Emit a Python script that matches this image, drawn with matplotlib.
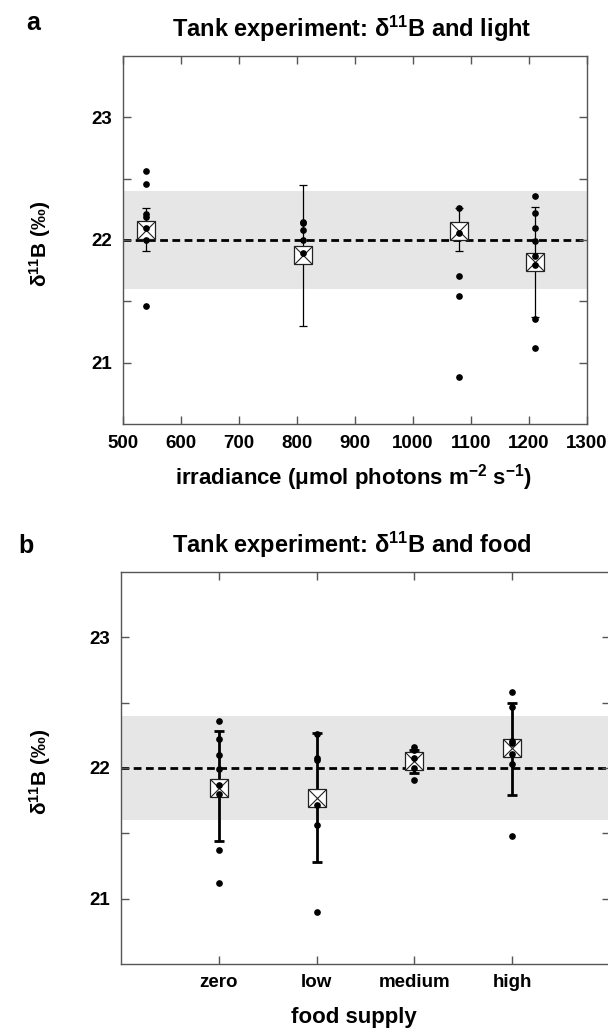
"""Tank experiment: d11B vs light and food (two panels)."""

import numpy as np
import matplotlib
matplotlib.use("Agg")
import matplotlib.pyplot as plt

plt.rcParams['font.family'] = ['Liberation Sans', 'DejaVu Sans']
plt.rcParams['font.weight'] = 'bold'
plt.rcParams['mathtext.fontset'] = 'custom'
plt.rcParams['mathtext.rm'] = 'Liberation Sans'
plt.rcParams['mathtext.it'] = 'Liberation Sans:italic'
plt.rcParams['mathtext.bf'] = 'Liberation Sans:bold'

# --- panel a: irradiance ---
irradiance = [540, 810, 1080, 1210]
light_samples = [
    [22.56, 22.46, 22.21, 22.19, 22.10, 22.00, 21.46],
    [22.15, 22.14, 22.08, 22.00, 21.89],
    [22.26, 22.06, 21.71, 21.54, 20.88],
    [22.36, 22.22, 22.10, 21.99, 21.87, 21.80, 21.36, 21.12],
]
light_mean = [22.08, 21.88, 22.07, 21.82]
light_hi = [22.26, 22.45, 22.26, 22.27]
light_lo = [21.91, 21.30, 21.91, 21.37]

# --- panel b: food supply ---
food = ["zero", "low", "medium", "high"]
food_samples = [
    [22.36, 22.22, 22.10, 21.99, 21.87, 21.80, 21.37, 21.12],
    [22.26, 22.08, 22.06, 21.72, 21.56, 20.90],
    [22.16, 22.14, 22.08, 22.00, 21.91],
    [22.58, 22.47, 22.21, 22.19, 22.11, 22.03, 21.48],
]
food_mean = [21.85, 21.77, 22.05, 22.15]
food_hi = [22.28, 22.27, 22.14, 22.50]
food_lo = [21.44, 21.28, 21.96, 21.79]

# seawater reference value and its range
ref_value = 22.0
ref_band = (21.6, 22.4)

SPINE = '#555555'
W, H = 608, 1030
fig = plt.figure(figsize=(W / 100, H / 100), dpi=100)


def px_axes(left, top, right, bottom):
    return fig.add_axes([left / W, 1 - bottom / H, (right - left) / W, (bottom - top) / H])


def style_axes(ax):
    for s in ax.spines.values():
        s.set_color(SPINE)
        s.set_linewidth(1.0)
    ax.set_ylim(20.5, 23.5)
    ax.set_yticks([21, 22, 23])
    ax.set_yticks([21.5, 22.5], minor=True)
    ax.tick_params(which='both', direction='in', length=6, width=1.0, color=SPINE,
                   top=True, right=True, labelsize=13.5, pad=8)
    ax.axhspan(*ref_band, color='#e6e6e6', lw=0, zorder=0)
    ax.axhline(ref_value, color='black', lw=2.0, ls=(0, (2.8, 1.6)), zorder=1)


def draw_groups(ax, xs, samples, means, hi, lo, elw, capsize, msize):
    m = np.array(means)
    yerr = [m - np.array(lo), np.array(hi) - m]
    ax.errorbar(xs, m, yerr=yerr, fmt='none', ecolor='black', elinewidth=elw,
                capsize=capsize, capthick=elw, zorder=2)
    ax.plot(xs, m, ls='none', marker='s', ms=msize, mfc='white', mec='#222222',
            mew=0.9, zorder=3)
    ax.plot(xs, m, ls='none', marker='x', ms=msize, mec='#222222', mew=0.8, zorder=4)
    for x, vals in zip(xs, samples):
        ax.plot([x] * len(vals), vals, ls='none', marker='o', ms=3.8, color='black', zorder=5)


# panel a
ax1 = px_axes(123, 56, 587, 424)
style_axes(ax1)
ax1.set_xlim(500, 1300)
ax1.set_xticks(np.arange(500, 1301, 100))
draw_groups(ax1, irradiance, light_samples, light_mean, light_hi, light_lo,
            elw=0.9, capsize=3, msize=12.5)

# panel b
ax2 = px_axes(121, 572, 610, 964)
style_axes(ax2)
xb = np.arange(1, len(food) + 1)
ax2.set_xlim(0, 5)
ax2.set_xticks(xb)
ax2.set_xticklabels(food)
ax2.tick_params(axis='x', pad=7)
draw_groups(ax2, xb, food_samples, food_mean, food_hi, food_lo,
            elw=2.0, capsize=3.5, msize=13.5)

# panel letters and titles
fig.text(33 / W, 1 - 30 / H, 'a', fontsize=18, ha='center', va='baseline')
fig.text(26 / W, 1 - 553 / H, 'b', fontsize=18, ha='center', va='baseline')

fig.text(352 / W, 1 - 37 / H,
         r'Tank experiment: $\mathrm{\delta}^{\mathbf{11}}\mathrm{B}$ and light',
         fontsize=17, ha='center', va='baseline')
fig.text(352 / W, 1 - 553 / H,
         r'Tank experiment: $\mathrm{\delta}^{\mathbf{11}}$B and food',
         fontsize=17, ha='center', va='baseline')

ylab = r'$\mathrm{\delta}^{\mathbf{11}}$B (‰)'
fig.text(40 / W, 1 - 244 / H, ylab, fontsize=15, rotation=90, ha='center', va='center')
fig.text(40 / W, 1 - 772 / H, ylab, fontsize=15, rotation=90, ha='center', va='center')

fig.text(353 / W, 1 - 478 / H,
         r'irradiance ($\mathrm{\mu}$mol photons m$^{\mathbf{-2}}$ s$^{\mathbf{-1}}$)',
         fontsize=16, ha='center', va='center')
fig.text(354 / W, 1 - 1018 / H, 'food supply', fontsize=16, ha='center', va='center')

fig.savefig('out.png', dpi=100)
